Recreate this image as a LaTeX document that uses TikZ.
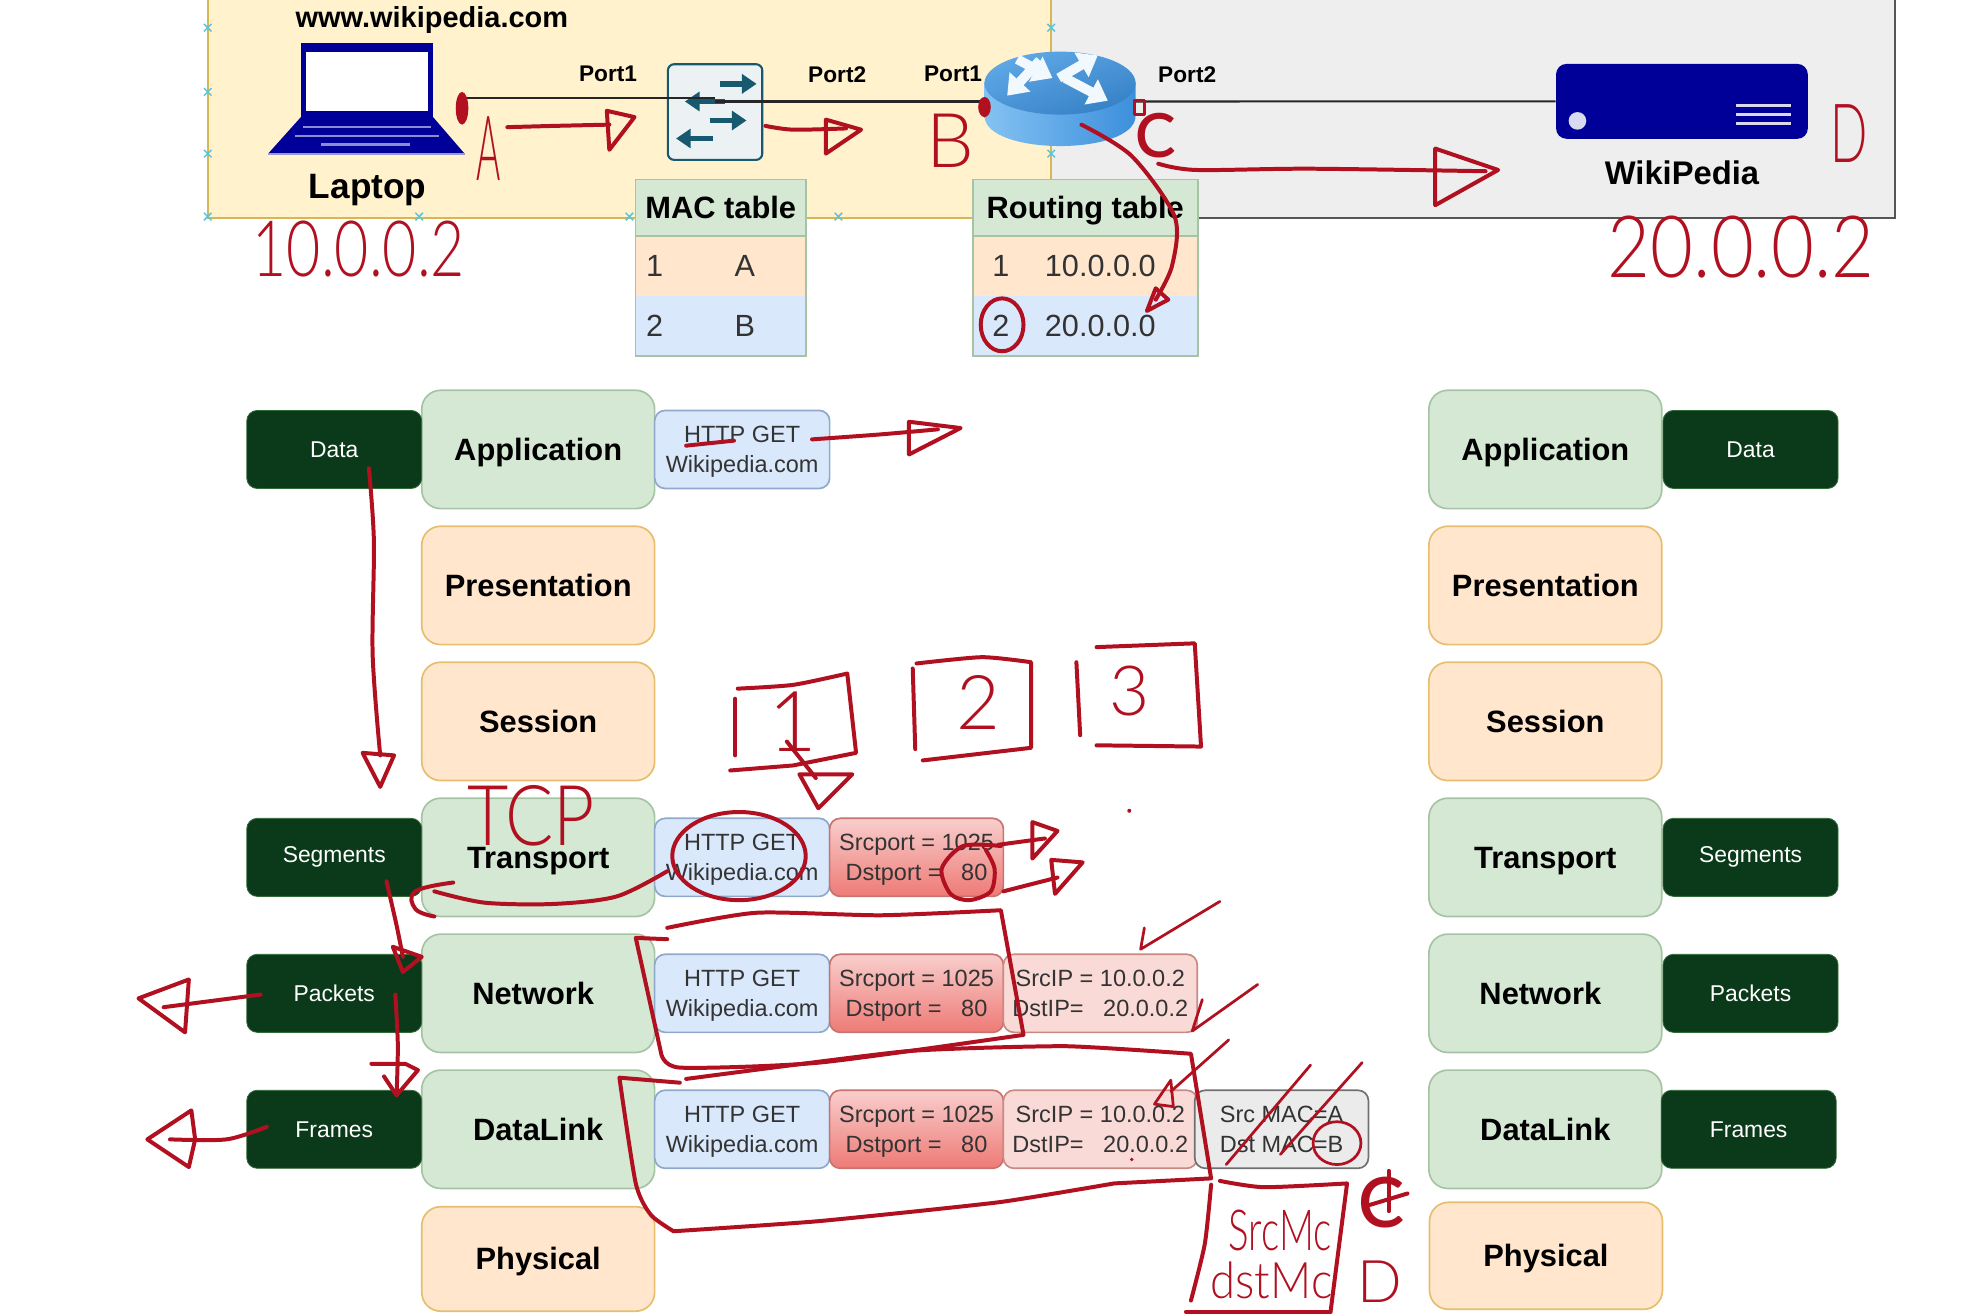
\documentclass[tikz,border=0pt]{standalone}
\usepackage{fontspec}
\usepackage{graphicx}
\setmainfont{Liberation Sans}
\newfontfamily\inkfont{Lato Light}
\usetikzlibrary{arrows.meta}
\definecolor{yellowzone}{HTML}{FFF2CC}
\definecolor{yellowedge}{HTML}{D6B656}
\definecolor{grayzone}{HTML}{EEEEEE}
\definecolor{grayedge}{HTML}{555555}
\definecolor{layergreen}{HTML}{D5E8D4}
\definecolor{layergreenedge}{HTML}{A6C4A3}
\definecolor{layerorange}{HTML}{FFE6CC}
\definecolor{layerorangeedge}{HTML}{E6BE6E}
\definecolor{darkpdu}{HTML}{0B3A1A}
\definecolor{darkpduedge}{HTML}{2F6B35}
\definecolor{httpblue}{HTML}{DAE8FC}
\definecolor{httpedge}{HTML}{8FA9CC}
\definecolor{portred}{HTML}{EE7A76}
\definecolor{portredtop}{HTML}{F8CECC}
\definecolor{portedge}{HTML}{C9736F}
\definecolor{ipfill}{HTML}{FADAD6}
\definecolor{ipedge}{HTML}{C98A84}
\definecolor{macfill}{HTML}{EBEBEB}
\definecolor{macedge}{HTML}{707070}
\definecolor{serverblue}{HTML}{000099}
\definecolor{switchteal}{HTML}{175A70}
\definecolor{routerdark}{HTML}{3C8FDC}
\definecolor{routerlight}{HTML}{8CC8F5}
\definecolor{inkred}{HTML}{B01020}
\definecolor{selcyan}{HTML}{5CC4D8}
\tikzset{>=latex}

\begin{document}
\begin{tikzpicture}[x=0.6pt,y=-0.6pt]
      \tikzstyle{layergr}=[draw=layergreenedge,fill=layergreen,rounded corners=9pt,minimum width=111pt,minimum height=56.4pt,text height=10.5pt,text depth=0pt,font=\fontsize{14.7}{16}\selectfont\bfseries,text=black,line width=0.8pt]
      \tikzstyle{layeror}=[layergr,draw=layerorangeedge,fill=layerorange]
      \tikzstyle{pdu}=[draw=darkpduedge,fill=darkpdu,rounded corners=5pt,minimum width=83.4pt,minimum height=37.2pt,font=\fontsize{10.9}{12}\selectfont,text=white]
      \tikzstyle{cellhttp}=[draw=httpedge,fill=httpblue,rounded corners=5pt,minimum width=83.4pt,minimum height=37.2pt,inner sep=0pt,align=center,text depth=0pt,font=\fontsize{11.2}{14}\selectfont,text=black!80,line width=0.8pt]
      \tikzstyle{cellport}=[cellhttp,draw=portedge,top color=portredtop,bottom color=portred,minimum width=82.8pt]
      \tikzstyle{cellip}=[cellhttp,draw=ipedge,fill=ipfill,minimum width=92.4pt]
      \tikzstyle{cellmac}=[cellhttp,draw=macedge,fill=macfill,minimum width=82.8pt]
      \tikzstyle{tablehead}=[fill=layergreen,inner sep=0pt,minimum height=26.4pt,text height=10.5pt,text depth=0pt,font=\fontsize{14.7}{16}\selectfont\bfseries]
      \tikzstyle{rowone}=[fill=layerorange,inner sep=0pt,minimum height=28.5pt,text height=10.5pt,text depth=0pt,font=\fontsize{14.6}{16}\selectfont,text=black!80]
      \tikzstyle{rowtwo}=[rowone,fill=httpblue]
      \tikzstyle{tableedge}=[draw=layergreenedge,line width=0.8pt]
      \tikzstyle{link}=[draw=black!85,line width=1pt]
      \tikzstyle{portlabel}=[font=\fontsize{10.8}{12}\selectfont\bfseries]
      \tikzstyle{ink}=[draw=inkred,line width=1.9pt,line cap=round,line join=round]
      \tikzstyle{inkthin}=[ink,line width=1.3pt]
      \tikzstyle{inklabel}=[text=inkred,inner sep=0pt]
      \tikzstyle{selmark}=[draw=selcyan,line width=0.7pt]
      \clip (0,0) rectangle (1568,1044.5);
      %%% Zones
      \fill[yellowzone] (165,-5) rectangle (835,173);
      \fill[grayzone] (835,-5) rectangle (1505,173);
      \draw[yellowedge,line width=0.8pt] (165,-5) -- (165,173) -- (835,173) -- (835,-5);
      \draw[grayedge,line width=0.8pt] (835,173) -- (1505,173) -- (1505,-5);
      \foreach \mx/\my in {165/22,165/73,165/122,165/172,333/172,500/172,666/172,835/22,835/122,835/172}
        \draw[selmark] (\mx,\my) +(-3,-3) -- +(3,3) +(-3,3) -- +(3,-3);
      %%% Laptop
      \node (laptop) at (291,78) [minimum width=91.2pt,minimum height=52pt,inner sep=0pt] {};
      \fill[serverblue] (239,34) rectangle (344,93);
      \fill[white] (243,41) rectangle (340,88);
      \fill[serverblue] (239,93) -- (344,93) -- (369,122) -- (213,122) -- cycle;
      \draw[serverblue!45,line width=1.2pt] (241,101) -- (342,101) (234,108) -- (349,108);
      \draw[serverblue!45,line width=1.6pt] (255,115) -- (326,115);
      \draw[serverblue!40,line width=1pt] (213,122) -- (369,122);
      \node (urlLabel) at (343,15.5) [font=\fontsize{13.8}{15}\selectfont\bfseries] {www.wikipedia.com};
      \node (laptopLabel) at (292,151) [font=\fontsize{16.8}{18}\selectfont\bfseries] {Laptop};
      %%% Switch
      \node (switch) at (568,89) [draw=switchteal,fill=white!92!switchteal,rounded corners=3pt,line width=1pt,minimum width=45pt,minimum height=45.6pt,inner sep=0pt] {};
      \draw[switchteal,line width=2.6pt,-{Triangle[length=7pt,width=9pt]}] (572,66.6) -- (601,66.6);
      \draw[switchteal,line width=2.6pt,-{Triangle[length=7pt,width=9pt]}] (576,80.6) -- (544,80.6);
      \draw[switchteal,line width=2.6pt,-{Triangle[length=7pt,width=9pt]}] (564,95.7) -- (593,95.7);
      \draw[switchteal,line width=2.6pt,-{Triangle[length=7pt,width=9pt]}] (566,110) -- (537,110);
      %%% Router
      \node (router) at (842,80.6) [minimum width=72pt,minimum height=45pt,inner sep=0pt] {};
      \draw[link] (laptop.east) -- (switch.center |- laptop.east);
      \draw[link] (switch.center |- router.west) -- (router.west);
      \shade[left color=routerlight!90!routerdark,right color=routerdark] (782,65) -- (782,92) .. controls (782,124) and (902,124) .. (902,92) -- (902,65) -- cycle;
      \shade[left color=routerdark!55!routerlight,right color=routerdark!90!black,shading angle=20] (842,66) ellipse [x radius=60,y radius=25];
      \foreach \ax/\ay/\bx/\by in {826/48/800/76,846/62/880/80,841/62/872/44,808/47/836/62}
        \draw[white!88!routerlight,line width=4.6pt,-{Triangle[length=9pt,width=13pt]}] (\ax,\ay) -- (\bx,\by);
      %%% Server
      \node (server) at (1336,80.5) [fill=serverblue,rounded corners=5pt,minimum width=120pt,minimum height=35.7pt,inner sep=0pt] {};
      \draw[link] (router.east) -- (server.west);
      \fill[white!85!serverblue] (1253,96) ellipse [x radius=7,y radius=7];
      \draw[white!85!serverblue,line width=1.5pt] (1379,84) -- (1423,84) (1379,91) -- (1423,91) (1379,98) -- (1423,98);
      \node (serverLabel) at (1336,137) [font=\fontsize{15.6}{17}\selectfont\bfseries] {WikiPedia};
      %%% Port labels
      \node (portA) at (483,59) [portlabel] {Port1};
      \node (portB) at (665,59) [portlabel] {Port2};
      \node (portC) at (757,59) [portlabel] {Port1};
      \node (portD) at (943,59) [portlabel] {Port2};
      %%% MAC table
      \node (macHead) at (572.5,165) [tablehead,minimum width=81pt] {MAC table};
      \node (macOne) at (520,211) [rowone,minimum width=18pt] {1};
      \node (macA) at (587.5,211) [rowone,minimum width=63pt] {\hspace*{5pt}A};
      \node (macTwo) at (520,258.5) [rowtwo,minimum width=18pt] {2};
      \node (macB) at (587.5,258.5) [rowtwo,minimum width=63pt] {\hspace*{5pt}B};
      \draw[tableedge] (macHead.north west) rectangle (macB.south east);
      \draw[tableedge] (macHead.south west) -- (macHead.south east);
      %%%% Routing table
      \node (rtHead) at (862,165) [tablehead,minimum width=106.8pt] {Routing table};
      \node (rtOne) at (795,211) [rowone,minimum width=26.4pt] {1};
      \node (rtNetA) at (884,211) [rowone,minimum width=80.4pt] {10.0.0.0\hspace*{12pt}};
      \node (rtTwo) at (795,258.5) [rowtwo,minimum width=26.4pt] {2};
      \node (rtNetB) at (884,258.5) [rowtwo,minimum width=80.4pt] {20.0.0.0\hspace*{12pt}};
      \draw[tableedge] (rtHead.north west) rectangle (rtNetB.south east);
      \draw[tableedge] (rtHead.south west) -- (rtHead.south east);
      %%% Left stack
      \node (appL) at (427.5,357) [layergr] {Application};
      \node (preL) at (427.5,465) [layeror] {Presentation};
      \node (sesL) at (427.5,573) [layeror] {Session};
      \node (traL) at (427.5,681) [layergr] {Transport};
      \node (netL) at (427.5,789) [layergr] {Network\hspace*{4.8pt}};
      \node (datL) at (427.5,897) [layergr] {DataLink};
      \node (phyL) at (427.5,1000) [layeror,minimum height=49.8pt] {Physical};
      \node (pduDataL) at (265.5,357) [pdu] {Data};
      \node (pduSegL) at (265.5,681) [pdu] {Segments};
      \node (pduPktL) at (265.5,789) [pdu] {Packets};
      \node (pduFrmL) at (265.5,897) [pdu] {Frames};
      %%% Right stack
      \node (appR) at (1227.5,357) [layergr] {Application};
      \node (preR) at (1227.5,465) [layeror] {Presentation};
      \node (sesR) at (1227.5,573) [layeror] {Session};
      \node (traR) at (1227.5,681) [layergr] {Transport};
      \node (netR) at (1227.5,789) [layergr] {Network\hspace*{4.8pt}};
      \node (datR) at (1227.5,897) [layergr] {DataLink};
      \node (phyR) at (1228,997.5) [layeror,minimum height=51pt] {Physical};
      \node (pduDataR) at (1390.5,357) [pdu] {Data};
      \node (pduSegR) at (1390.5,681) [pdu] {Segments};
      \node (pduPktR) at (1390.5,789) [pdu] {Packets};
      \node (pduFrmR) at (1389,897) [pdu] {Frames};
      %%% Encapsulation cells
      \node (httpApp) at (589.5,357) [cellhttp] {HTTP GET\\Wikipedia.com};
      \node (httpTra) at (589.5,681) [cellhttp] {HTTP GET\\Wikipedia.com};
      \node (portTra) at (728,681) [cellport] {Srcport = 1025\\Dstport =\ \ \ 80};
      \node (httpNet) at (589.5,789) [cellhttp] {HTTP GET\\Wikipedia.com};
      \node (portNet) at (728,789) [cellport] {Srcport = 1025\\Dstport =\ \ \ 80};
      \node (ipNet) at (874,789) [cellip] {SrcIP = 10.0.0.2\\DstIP=\ \ \ 20.0.0.2};
      \node (httpDat) at (589.5,897) [cellhttp] {HTTP GET\\Wikipedia.com};
      \node (portDat) at (728,897) [cellport] {Srcport = 1025\\Dstport =\ \ \ 80};
      \node (ipDat) at (874,897) [cellip] {SrcIP = 10.0.0.2\\DstIP=\ \ \ 20.0.0.2};
      \node (macDat) at (1018,897) [cellmac] {Src MAC=A\\Dst MAC=B};
      %%% Ink, top row
      \fill[inkred] (367,86) ellipse [x radius=5,y radius=13];
      \fill[inkred] (782,85) ellipse [x radius=5,y radius=8];
      \draw[inkthin] (901,80) rectangle (909,91);
      \draw[ink] plot[smooth] coordinates {(403,101) (440,100) (484,99)};
      \draw[ink] (484,119) -- (482,88) -- (504,93) -- cycle;
      \draw[ink] plot[smooth] coordinates {(608,100) (630,103) (672,102)};
      \draw[ink] (656,122) -- (656,95) -- (684,103) -- cycle;
      \draw[ink] plot[smooth] coordinates {(920,130) (950,135) (1040,134) (1180,136)};
      \draw[ink] (1140,118) -- (1190,135) -- (1140,163) -- cycle;
      \draw[ink] plot[smooth] coordinates {(859,99) (899,124) (933,172) (931,211) (918,238)};
      \draw[ink] (918,229) -- (928,238) -- (911,247) -- cycle;
      \draw[ink] (796,258) ellipse [x radius=17,y radius=21];
      \node (inkA) at (388,118) [inklabel,font=\inkfont\fontsize{43}{44}\selectfont] {\scalebox{.41}[1]{A}};
      \node (inkB) at (755,112) [inklabel,font=\inkfont\fontsize{36}{38}\selectfont] {B};
      \node (inkC) at (918,108) [inklabel,font=\inkfont\bfseries\fontsize{29}{30}\selectfont] {C};
      \node (inkD) at (1469,106) [inklabel,font=\inkfont\fontsize{39}{40}\selectfont] {\scalebox{.6}[1]{D}};
      \node (inkIpA) at (285,198) [inklabel,font=\inkfont\fontsize{37}{38}\selectfont] {\scalebox{.76}[1]{10.0.0.2}};
      \node (inkIpB) at (1383,196) [inklabel,font=\inkfont\fontsize{41}{42}\selectfont] {\scalebox{.86}[1]{20.0.0.2}};
      %%% Ink, stack
      \draw[ink] (545,354) -- (583,350);
      \draw[ink] plot[smooth] coordinates {(645,349) (700,345) (745,341)};
      \draw[ink] (722,335) -- (763,340) -- (722,361) -- cycle;
      \draw[ink] plot[smooth] coordinates {(293,372) (297,430) (296,520) (302,600)};
      \draw[ink] (288,598) -- (313,600) -- (302,625) -- cycle;
      %%%% Boxes 1 2 3
      \draw[ink] plot[smooth,tension=.4] coordinates {(586,547) (630,544) (673,535)} -- (680,598) -- (630,608) -- (580,612);
      \draw[ink] (584,555) -- (584,600);
      \draw[ink] plot[smooth,tension=.4] coordinates {(728,527) (780,522) (819,526)} -- (819,594) -- (733,604);
      \draw[ink] (725,531) -- (727,595);
      \draw[ink] (871,514) -- (949,511) -- (954,593) -- (871,592);
      \draw[ink] (855,526) -- (858,584);
      \node (inkOne) at (630,573) [inklabel,font=\inkfont\fontsize{40}{41}\selectfont] {1};
      \node (inkTwo) at (777,558) [inklabel,font=\inkfont\fontsize{36}{37}\selectfont] {2};
      \node (inkThree) at (897,549) [inklabel,font=\inkfont\fontsize{33}{34}\selectfont] {3};
      \draw[ink] (625,589) -- (648,618);
      \draw[ink] (635,615) -- (677,615) -- (650,642) -- cycle;
      \fill[inkred] (897,644) circle [radius=1.6];
      %%%% Transport
      \node (inkTcp) at (422,648) [inklabel,font=\inkfont\fontsize{40}{41}\selectfont] {\scalebox{.85}[1]{TCP}};
      \draw[ink] (587,680) ellipse [x radius=53,y radius=35];
      \draw[ink] plot[smooth] coordinates {(530,692) (490,712) (440,718) (385,717) (345,708)};
      \draw[ink] plot[smooth,tension=.7] coordinates {(360,701) (330,708) (330,722) (345,728)};
      \draw[ink] plot[smooth] coordinates {(795,672) (765,672) (748,690) (755,710) (770,715) (787,708) (790,690) (783,675)};
      \draw[ink] (793,671) -- (830,666);
      \draw[ink] (820,653) -- (840,660) -- (820,682) -- cycle;
      \draw[ink] (797,708) -- (840,697);
      \draw[ink] (835,683) -- (860,685) -- (838,710) -- cycle;
      \draw[ink] plot[smooth] coordinates {(307,700) (315,735) (320,760)};
      \draw[ink] (312,752) -- (335,760) -- (320,772) -- cycle;
      %%%% Network and DataLink outlines
      \draw[ink] plot[smooth,tension=.4] coordinates {(530,737) (601,725) (700,727) (795,723)} -- (813,822) -- plot[smooth,tension=.4] coordinates {(813,822) (651,844) (540,848) (525,836)} -- (505,745) -- (530,746);
      \draw[ink] (540,860) -- (492,856) -- plot[smooth,tension=.4] coordinates {(492,856) (505,940) (517,965) (535,978)} -- plot[smooth,tension=.3] coordinates {(535,978) (650,970) (793,955) (885,940)} -- (962,936) -- (946,837) -- plot[smooth,tension=.3] coordinates {(946,837) (846,831) (720,835) (545,857)};
      \draw[ink] (207,790) -- (130,800);
      \draw[ink] (150,778) -- (110,793) -- (147,820) -- cycle;
      \draw[ink] plot[smooth] coordinates {(314,790) (316,830) (315,870)};
      \draw[ink] (295,845) -- (322,845) -- (332,850) -- (315,870) -- (305,855);
      \draw[ink] plot[smooth] coordinates {(212,895) (180,905) (135,905)};
      \draw[ink] (152,882) -- (117,905) -- (150,927) -- (155,905) -- cycle;
      %%%% Ticks and the MAC note
      \draw[inkthin] (969,716) -- (906,754) -- (909,737);
      \draw[inkthin] (999,782) -- (947,819) -- (955,794);
      \draw[inkthin] (976,826) -- (930,867);
      \draw[inkthin] (930,858) -- (917,877) -- (932,879) -- cycle;
      \draw[inkthin] (1041,846) -- (974,925);
      \draw[inkthin] (1082,844) -- (1017,917);
      \draw[inkthin] (1062,908) ellipse [x radius=19,y radius=17];
      \fill[inkred] (899,921) circle [radius=1.5];
      \draw[ink] plot[smooth,tension=.4] coordinates {(969,938) (1004,943) (1070,940)} -- (1062,1002) -- (1057,1041);
      \draw[ink] plot[smooth,tension=.4] coordinates {(962,941) (957,988) (946,1033)};
      \draw[ink] (942,1042) -- (1057,1042);
      \node (inkSrcMac) at (1017,977) [inklabel,font=\inkfont\fontsize{27}{28}\selectfont] {\scalebox{.68}[1]{SrcMc}};
      \node (inkDstMac) at (1010,1017) [inklabel,font=\inkfont\fontsize{24}{25}\selectfont] {\scalebox{.9}[1]{dstMc}};
      \node (inkCmark) at (1097,955) [inklabel,font=\inkfont\bfseries\fontsize{33}{34}\selectfont] {C};
      \draw[ink] (1103,930) -- (1103,962);
      \draw[ink] (1085,958) -- (1118,948);
      \node (inkDmark) at (1096,1018) [inklabel,font=\inkfont\fontsize{28}{29}\selectfont] {D};
\end{tikzpicture}
\end{document}
